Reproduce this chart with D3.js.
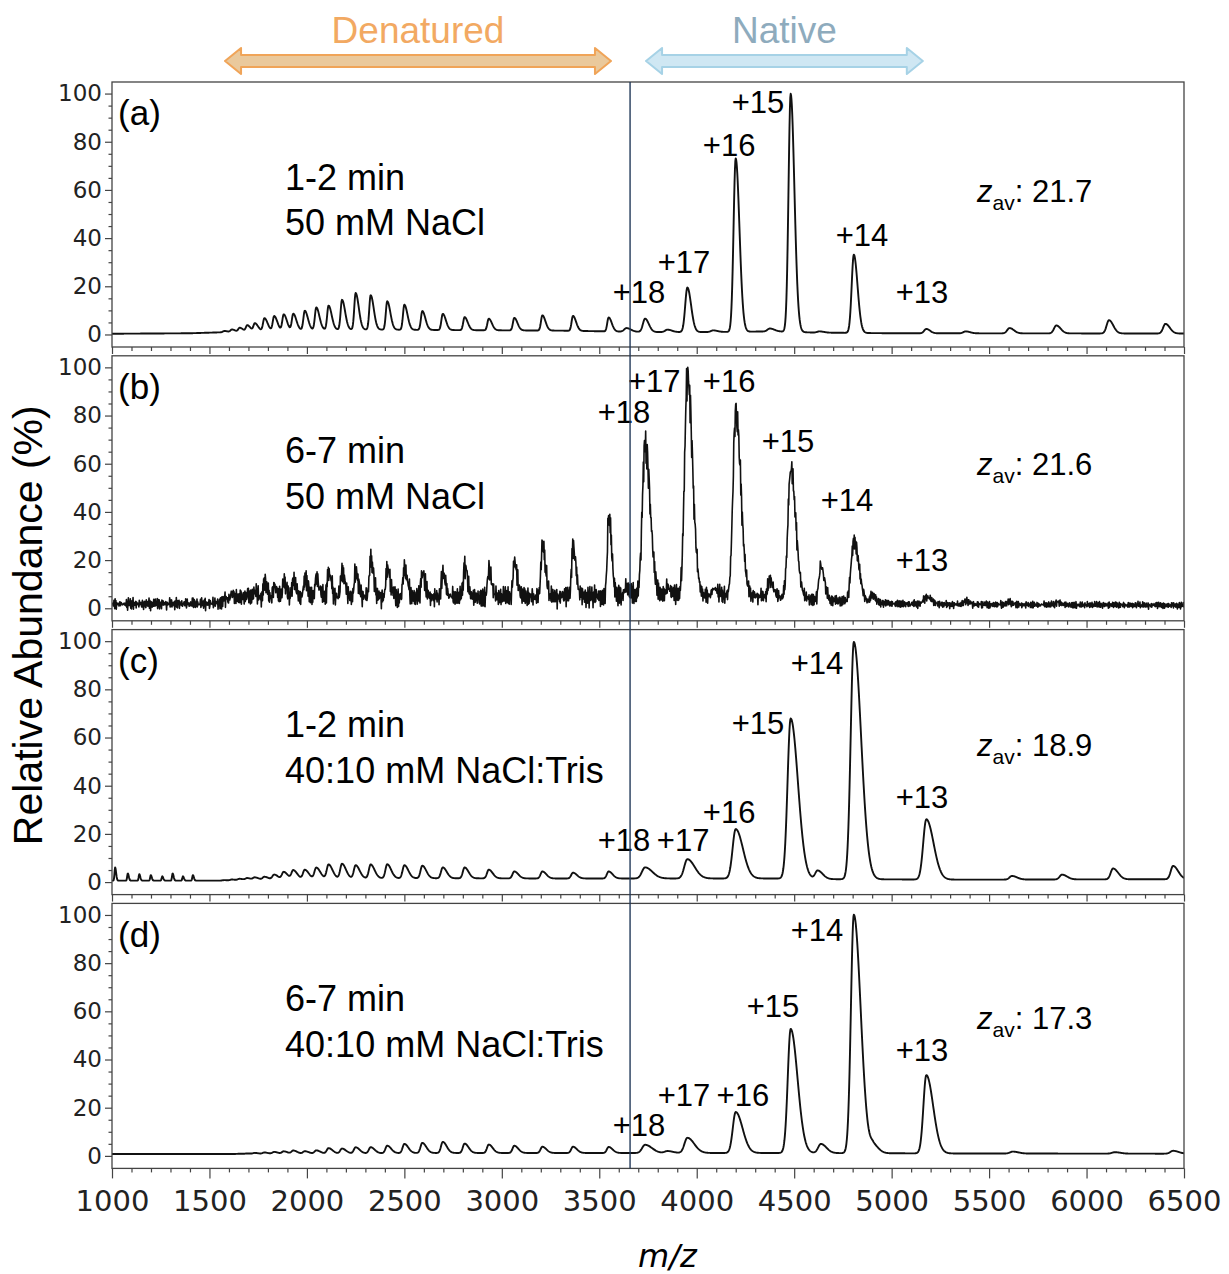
<!DOCTYPE html>
<html>
<head>
<meta charset="utf-8">
<script src="https://cdn.jsdelivr.net/npm/d3@7"></script>
<style>
  body { margin: 0; background: #fff; }
  svg { display: block; }
</style>
</head>
<body>
<svg id="chart" width="1229" height="1274"></svg>
<script>
// ---------- data ----------
const xTicks = [1000, 1500, 2000, 2500, 3000, 3500, 4000, 4500, 5000, 5500, 6000, 6500];
const yTicks = [0, 20, 40, 60, 80, 100];

const panelLetters = ["(a)", "(b)", "(c)", "(d)"];
const timeLabels = ["1-2 min", "6-7 min", "1-2 min", "6-7 min"];
const bufferLabels = ["50 mM NaCl", "50 mM NaCl", "40:10 mM NaCl:Tris", "40:10 mM NaCl:Tris"];
const zavValues = ["21.7", "21.6", "18.9", "17.3"];

// native charge states +18 ... +13 (peak m/z)
const chargeLabels = ["+18", "+17", "+16", "+15", "+14", "+13"];
const nativeMz = [3735, 3952, 4200, 4482, 4806, 5178];

// high-charge (unfolded) envelope, peak m/z
const denatMz = [1576, 1615, 1655, 1694, 1733, 1782, 1832, 1881, 1930, 1989, 2048, 2111, 2180,
                 2250, 2327, 2412, 2500, 2592, 2697, 2809, 2933, 3064, 3208, 3365, 3548];

// (a) 1-2 min, 50 mM NaCl
const denatA = [0.5, 1, 1.6, 2.5, 3.2, 5.2, 6, 6.6, 6.8, 8, 9.3, 10, 12.4,
                15.2, 14.3, 11.8, 10.4, 7.8, 6.7, 5.4, 4.8, 5.2, 6.3, 6.2, 5.8];
const nativeA = [5.5, 18.5, 72, 98.8, 32.5, 1.8];
const minorA = [[3640, 1.5], [3850, 1], [4085, 0.7], [4375, 1.2], [4630, 0.5],
                [5380, 0.8], [5605, 2.2], [5845, 3.3], [6115, 5.5], [6405, 4]];
const baselineA = [[1000, 0.3], [1400, 0.5], [1600, 1], [1800, 1.6], [2100, 2], [2400, 2],
                   [2800, 1.8], [3300, 1.6], [3600, 1.2], [3800, 1], [4100, 1], [4400, 1.3],
                   [4600, 0.8], [5000, 0.5], [6500, 0.4]];

// (b) 6-7 min, 50 mM NaCl
const denatB = [2, 4, 2.5, 3, 4, 7, 5.5, 7, 7, 8, 8.5, 10.5, 11,
                10.5, 15.5, 12, 12, 10, 10, 13, 11, 14.5, 22, 21, 33];
const nativeB = [62.5, 92, 76.5, 53.5, 25, 3];
const minorB = [[3640, 3], [3850, 3], [4090, 3], [4375, 7], [4637, 14], [4900, 3],
                [5380, 1.5], [5600, 1], [5850, 1]];
const baselineB = [[1000, 1.7], [1500, 1.9], [1650, 2.7], [1800, 3.7], [2200, 4.5], [3000, 4.5],
                   [3500, 5], [3700, 5.5], [4300, 5], [4550, 4], [4750, 3], [4950, 2],
                   [5200, 1.6], [6500, 1.2]];
const noiseB = [[1000, 2.7], [1500, 3], [1700, 4], [2000, 4.5], [3600, 4.5], [4400, 3.8],
                [4700, 2.8], [5000, 1.7], [6500, 1.4]];

// (c) 1-2 min, 40:10 mM NaCl:Tris
const denatC = [0.2, 0.4, 0.6, 0.8, 1, 1.2, 2, 3, 3.6, 3.7, 4.5, 5.7, 6,
                5.4, 5.7, 5.8, 5.4, 5.2, 4.5, 4.5, 3.6, 2.9, 2.9, 2.4, 2.9];
const nativeC = [4.6, 8, 20.5, 66.5, 98.5, 25];
const minorC = [[1016, 5.5], [1081, 3], [1140, 2.7], [1199, 2.3], [1258, 1.8], [1311, 3],
                [1364, 1.8], [1415, 2.3], [4620, 3.5], [5617, 1.5], [5874, 2], [6136, 4.5], [6444, 5.5]];
const baselineC = [[1000, 0.6], [1600, 0.6], [1800, 1], [2100, 1.6], [2600, 1.6], [3200, 1.5],
                   [3600, 1.5], [4400, 1.5], [4700, 1.2], [5400, 1], [6500, 1.2]];

// (d) 6-7 min, 40:10 mM NaCl:Tris
const denatD = [0, 0, 0.1, 0.2, 0.4, 0.6, 0.8, 1, 1.3, 1, 1.3, 2.2, 2,
                2.5, 2.5, 3.1, 3.8, 4.2, 4.6, 3.9, 3.5, 3, 2.6, 2.6, 2.5];
const nativeD = [3.4, 6.3, 17, 51.5, 99, 32.5];
const minorD = [[3850, 0.8], [4637, 3.8], [4905, 3.2], [5622, 0.8], [6145, 0.6], [6444, 1.2]];
const baselineD = [[1000, 0.8], [1800, 0.8], [2100, 1], [2600, 1.2], [3400, 1.2], [3800, 1.2],
                   [4500, 1.2], [5300, 1], [6500, 0.9]];

// detector jitter for the noisy 6-7 min NaCl trace
const jitterA = [0.62, -0.41, 0.18, -0.87, 0.35, 0.94, -0.22, -0.66, 0.51, -0.09, 0.77, -0.58, 0.03,
                 -0.95, 0.44, 0.12, -0.33, 0.86, -0.71, 0.27, -0.14, 0.69, -0.48, 0.91, -0.05, -0.82,
                 0.39, 0.57, -0.26, -0.63, 0.15, 0.74, -0.97, 0.31, -0.18, 0.48, -0.54];
const jitterB = [-0.33, 0.71, -0.12, 0.45, -0.89, 0.08, 0.63, -0.52, 0.96, -0.27, 0.19, -0.74, 0.38,
                 0.84, -0.61, -0.03, 0.57, -0.93, 0.25, -0.44, 0.79, -0.16, 0.11, -0.68, 0.47, 0.92,
                 -0.38, -0.81, 0.29, 0.66, -0.07, -0.55, 0.83, -0.21, 0.41, -0.99, 0.14, 0.6, -0.46,
                 0.23, -0.72];

const dividerMz = 3658;

// ---------- layout ----------
const plotLeft = 112, plotRight = 1184;
const panelTop0 = 82, panelStep = 273.8, panelH = 265;
const yDomain = [-5.2, 104.8];

// peak widths (m/z) for left / right flanks
const shapes = [
  { nat: [11, 19], den: [7, 16], minor: [12, 22] },
  { nat: [14, 26], den: [7, 15], minor: [10, 18] },
  { nat: [16, 37], den: [9, 20], minor: [12, 26] },
  { nat: [15, 35], den: [9, 20], minor: [14, 28] }
];
// charge label anchors (m/z, abundance), +18 ... +13
const chargePos = [
  [[3704, 17.6], [3935, 30], [4166, 78.6], [4314, 96.6], [4848, 41.3], [5156, 17.6]],
  [[3627, 81.7], [3782, 94.2], [4166, 94.2], [4468, 69.3], [4771, 45.2], [5156, 20.3]],
  [[3627, 17.4], [3930, 17.4], [4166, 29], [4314, 66], [4617, 90.9], [5156, 35.3]],
  [[3704, 12.9], [3935, 25.3], [4237, 25.3], [4391, 62.2], [4617, 93.8], [5156, 44]]
];
const zavPos = [59.5, 60, 57, 57.3];
const textLeftMz = 1888, letterMz = 1031;

const panels = [
  { denat: denatA, native: nativeA, minor: minorA, baseline: baselineA },
  { denat: denatB, native: nativeB, minor: minorB, baseline: baselineB, noise: noiseB },
  { denat: denatC, native: nativeC, minor: minorC, baseline: baselineC },
  { denat: denatD, native: nativeD, minor: minorD, baseline: baselineD }
];

const ARIAL = "'Liberation Sans', Arial, Helvetica, sans-serif";
const DEJAVU = "'DejaVu Sans', sans-serif";

const svg = d3.select("#chart");
const x = d3.scaleLinear().domain([1000, 6500]).range([plotLeft, plotRight]);

function peakShape(m, c, h, sl, sr) {
  const d = m - c;
  const s = d < 0 ? sl : sr;
  if (Math.abs(d) > 6 * s) return 0;
  return h * Math.exp(-0.5 * (d / s) * (d / s));
}

const minorX = d3.range(1000, 6501, 100).filter(v => v % 500 !== 0);
const minorY = d3.range(0, 101, 5).filter(v => v % 20 !== 0);
const mzGrid = d3.range(1000, 6500.1, 2);

panels.forEach((p, i) => {
  const top = panelTop0 + i * panelStep;
  const bottom = top + panelH;
  const y = d3.scaleLinear().domain(yDomain).range([bottom, top]);
  const shape = shapes[i];
  const g = svg.append("g");

  svg.append("clipPath").attr("id", "clip" + i)
    .append("rect").attr("x", plotLeft).attr("y", top)
    .attr("width", plotRight - plotLeft).attr("height", panelH);

  // spectrum
  const base = d3.scaleLinear().domain(p.baseline.map(d => d[0])).range(p.baseline.map(d => d[1])).clamp(true);
  const noiseAmp = p.noise
    ? d3.scaleLinear().domain(p.noise.map(d => d[0])).range(p.noise.map(d => d[1])).clamp(true)
    : null;
  const peaks = [];
  denatMz.forEach((c, k) => peaks.push([c, p.denat[k], shape.den[0], shape.den[1]]));
  nativeMz.forEach((c, k) => peaks.push([c, p.native[k], shape.nat[0], shape.nat[1]]));
  p.minor.forEach(([c, h]) => {
    const narrow = c < 1500;
    peaks.push([c, h, narrow ? 3 : shape.minor[0], narrow ? 5 : shape.minor[1]]);
  });

  const trace = mzGrid.map((m, k) => {
    let s = 0;
    for (const pk of peaks) s += peakShape(m, pk[0], pk[1], pk[2], pk[3]);
    let v = base(m) + s;
    if (noiseAmp) {
      const j = jitterA[k % jitterA.length] * 0.6 + jitterB[k % jitterB.length] * 0.55;
      v += j * (noiseAmp(m) + 0.07 * s);
    }
    return [m, v];
  });

  g.append("path")
    .datum(trace)
    .attr("clip-path", `url(#clip${i})`)
    .attr("fill", "none")
    .attr("stroke", "#111")
    .attr("stroke-width", p.noise ? 1.6 : 1.9)
    .attr("stroke-linejoin", "round")
    .attr("d", d3.line().x(d => x(d[0])).y(d => y(d[1])));

  // frame
  g.append("rect")
    .attr("x", plotLeft).attr("y", top)
    .attr("width", plotRight - plotLeft).attr("height", panelH)
    .attr("fill", "none").attr("stroke", "#444").attr("stroke-width", 1.3);

  // x axis
  const isLast = i === panels.length - 1;
  const xAxis = g.append("g").attr("transform", `translate(0,${bottom})`)
    .call(d3.axisBottom(x).tickValues(xTicks).tickSize(isLast ? 10 : 7).tickPadding(12)
      .tickFormat(isLast ? d3.format("d") : () => ""));
  g.append("g").attr("transform", `translate(0,${bottom})`)
    .call(d3.axisBottom(x).tickValues(minorX).tickSize(4).tickFormat(() => ""))
    .call(a => a.select(".domain").remove());
  xAxis.select(".domain").remove();
  xAxis.selectAll("text").style("font-family", DEJAVU).style("font-size", "29px").attr("fill", "#222");

  // y axis
  const yAxis = g.append("g").attr("transform", `translate(${plotLeft},0)`)
    .call(d3.axisLeft(y).tickValues(yTicks).tickSize(7).tickPadding(3));
  g.append("g").attr("transform", `translate(${plotLeft},0)`)
    .call(d3.axisLeft(y).tickValues(minorY).tickSize(3.5).tickFormat(() => ""))
    .call(a => a.select(".domain").remove());
  yAxis.select(".domain").remove();
  yAxis.selectAll("text").style("font-family", DEJAVU).style("font-size", "23px").attr("fill", "#222");
  g.selectAll(".tick line").attr("stroke", "#444").attr("stroke-width", 1.2);

  // panel texts
  const txt = (mz, v, s, size) => g.append("text")
    .attr("x", x(mz)).attr("y", y(v) + 0.36 * size)
    .style("font-family", ARIAL).style("font-size", size + "px").attr("fill", "#000").text(s);

  txt(letterMz, 92, panelLetters[i], 35);
  txt(textLeftMz, 65.5, timeLabels[i], 36);
  txt(textLeftMz, 46.5, bufferLabels[i], 36);

  chargePos[i].forEach(([mz, v], k) => {
    g.append("text")
      .attr("x", x(mz)).attr("y", y(v) + 0.36 * 31)
      .attr("text-anchor", "middle")
      .style("font-family", ARIAL).style("font-size", "31px").attr("fill", "#000")
      .text(chargeLabels[k]);
  });

  const zy = y(zavPos[i]) + 0.36 * 31;
  const zt = g.append("text").attr("x", x(5438)).attr("y", zy)
    .style("font-family", ARIAL).style("font-size", "31px").attr("fill", "#000");
  zt.append("tspan").style("font-style", "italic").text("z");
  zt.append("tspan").attr("dy", 8).style("font-size", "21px").text("av");
  zt.append("tspan").attr("dy", -8).text(": " + zavValues[i]);
});

// divider between the denatured and native regions
svg.append("line")
  .attr("x1", x(dividerMz)).attr("x2", x(dividerMz))
  .attr("y1", panelTop0).attr("y2", panelTop0 + 3 * panelStep + panelH)
  .attr("stroke", "#22395a").attr("stroke-width", 1.4);

// axis titles
svg.append("text")
  .attr("transform", `translate(42,${(panelTop0 + panelTop0 + 3 * panelStep + panelH) / 2}) rotate(-90)`)
  .attr("text-anchor", "middle")
  .style("font-family", ARIAL).style("font-size", "41px").attr("fill", "#000")
  .text("Relative Abundance (%)");

svg.append("text")
  .attr("x", x(3850)).attr("y", 1267)
  .attr("text-anchor", "middle")
  .style("font-family", DEJAVU).style("font-size", "32px").style("font-style", "italic")
  .attr("fill", "#000")
  .text("m/z");

// region arrows above the spectra
function doubleArrow(x0, x1, cy, fill, stroke) {
  const sh = 6, hh = 13, hl = 16;
  const pts = [
    [x0, cy], [x0 + hl, cy - hh], [x0 + hl, cy - sh], [x1 - hl, cy - sh], [x1 - hl, cy - hh],
    [x1, cy], [x1 - hl, cy + hh], [x1 - hl, cy + sh], [x0 + hl, cy + sh], [x0 + hl, cy + hh]
  ];
  svg.append("path")
    .attr("d", d3.line()(pts) + "Z")
    .attr("fill", fill).attr("stroke", stroke).attr("stroke-width", 2)
    .attr("stroke-linejoin", "round");
}
const denatRange = [1580, 3560];
const nativeRange = [3740, 5160];
doubleArrow(x(denatRange[0]), x(denatRange[1]), 61, "#eac99c", "#f0a458");
doubleArrow(x(nativeRange[0]), x(nativeRange[1]), 61, "#cfe7f3", "#a6d2e6");

svg.append("text").attr("x", x((denatRange[0] + denatRange[1]) / 2)).attr("y", 30 + 0.36 * 37)
  .attr("text-anchor", "middle").style("font-family", ARIAL).style("font-size", "37px")
  .attr("fill", "#f2a962").text("Denatured");
svg.append("text").attr("x", x((nativeRange[0] + nativeRange[1]) / 2)).attr("y", 30 + 0.36 * 37)
  .attr("text-anchor", "middle").style("font-family", ARIAL).style("font-size", "37px")
  .attr("fill", "#8eabbd").text("Native");
</script>
</body>
</html>
